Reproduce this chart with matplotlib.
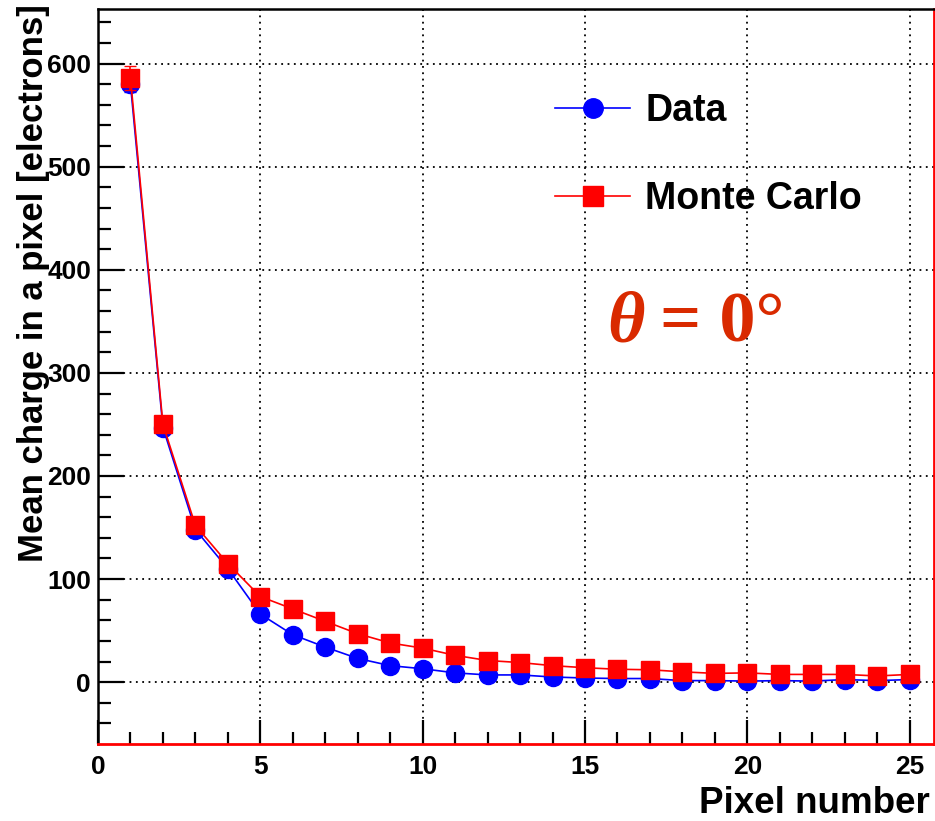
import numpy as np
import matplotlib.pyplot as plt
from matplotlib.lines import Line2D

# mean charge per pixel (electrons)
pixel = np.arange(1, 26)
data_q = [580, 247, 148, 110, 66, 46, 34, 23, 16, 13, 9, 7, 7, 5, 4,
          3.5, 3.5, 1.5, 1.5, 1, 1.5, 1, 2.5, 1.5, 2.5]
mc_q = [586, 250, 152, 115, 83, 71, 59, 47, 38, 33, 26, 21, 19, 16, 14,
        12.5, 12, 10, 8.5, 9, 7.5, 7.5, 7.5, 6, 7.5]
data_err = [8] + [1] * 24
mc_err = [12] + [1] * 24

plt.rcParams['font.family'] = ['Liberation Sans', 'DejaVu Sans']
plt.rcParams['font.weight'] = 'bold'

fig = plt.figure(figsize=(9.35, 8.21), dpi=100)
ax = fig.add_axes([98 / 935, 1 - 744 / 821, 836 / 935, 735 / 821])

ax.errorbar(pixel, data_q, yerr=data_err, color='blue', marker='o', ms=13,
            lw=1.2, capsize=4, zorder=3)
ax.errorbar(pixel, mc_q, yerr=mc_err, color='red', marker='s', ms=13.5,
            lw=1.2, capsize=4, zorder=4)

ax.set_xlim(0, 25.75)
ax.set_ylim(-60, 653)
ax.set_xticks(np.arange(0, 26, 5))
ax.set_xticks(np.arange(0, 26, 1), minor=True)
ax.set_yticks(np.arange(0, 601, 100))
ax.set_yticks(np.arange(-40, 653, 20), minor=True)
ax.tick_params(which='both', direction='in', top=False, right=False,
               labelsize=19, width=1.6, color='black')
ax.tick_params(axis='y', which='major', length=19, pad=5)
ax.tick_params(axis='y', which='minor', length=9.5)
ax.tick_params(axis='x', which='major', length=17, pad=8)
ax.tick_params(axis='x', which='minor', length=9)
for lab in ax.get_xticklabels() + ax.get_yticklabels():
    lab.set_fontweight('bold')

ax.grid(True, which='major', color='black', linestyle=(0, (1, 2.5)), lw=1.3)

for side in ['left', 'top']:
    ax.spines[side].set_linewidth(1.8)
    ax.spines[side].set_color('black')
ax.spines['bottom'].set_color('red')
ax.spines['bottom'].set_linewidth(2)
ax.spines['right'].set_color('red')
ax.spines['right'].set_linewidth(2)

ax.set_xlabel('Pixel number', fontsize=26.5, fontweight='bold', ha='right')
ax.xaxis.label.set_va('baseline')
ax.xaxis.set_label_coords(0.995, -0.094)
ax.set_ylabel('Mean charge in a pixel [electrons]', fontsize=25,
              fontweight='bold', ha='right')
ax.yaxis.set_label_coords(-0.058, 1.007)

handles = [Line2D([], [], color='blue', marker='o', ms=14, lw=1.2),
           Line2D([], [], color='red', marker='s', ms=14.5, lw=1.2)]
ax.legend(handles, ['Data', 'Monte Carlo'], loc='upper left',
          bbox_to_anchor=(0.547, 0.886), frameon=False,
          fontsize=27, handlelength=2.0, handletextpad=0.4,
          labelspacing=1.4, borderpad=0, borderaxespad=0)

ax.text(0.609, 0.547, '\u03b8', transform=ax.transAxes, fontsize=52,
        family='Liberation Serif', style='italic', fontweight='bold',
        color='#d92a00', va='baseline')
ax.text(0.672, 0.547, '= 0\u00b0', transform=ax.transAxes, fontsize=52,
        family='Liberation Serif', fontweight='bold',
        color='#d92a00', va='baseline')

plt.savefig('out.png', dpi=100)
